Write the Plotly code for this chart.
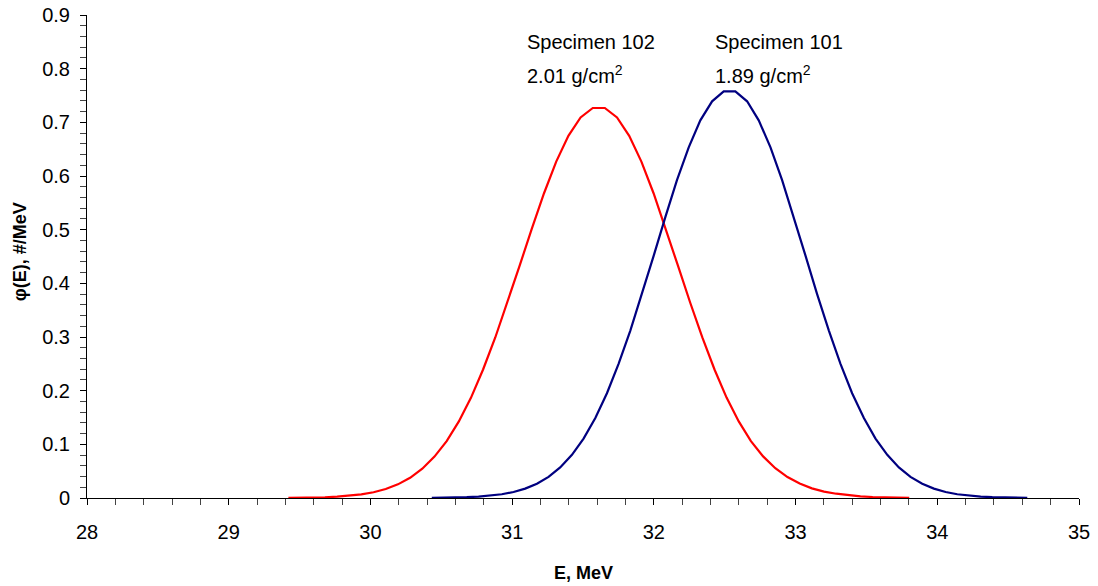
import plotly.graph_objects as go

# Specimen 102 (red)
x102 = [29.421, 29.507, 29.593, 29.679, 29.765, 29.851, 29.936, 30.022, 30.108, 30.194,
        30.280, 30.366, 30.452, 30.538, 30.624, 30.710, 30.795, 30.881, 30.967, 31.053,
        31.139, 31.225, 31.311, 31.397, 31.483, 31.569, 31.654, 31.740, 31.826, 31.912,
        31.998, 32.084, 32.170, 32.256, 32.342, 32.428, 32.513, 32.599, 32.685, 32.771,
        32.857, 32.943, 33.029, 33.115, 33.201, 33.287, 33.372, 33.458, 33.544, 33.630,
        33.716, 33.802]
y102 = [0.0002, 0.0004, 0.0008, 0.0014, 0.0024, 0.0041, 0.0067, 0.0107, 0.0167, 0.0254,
        0.0377, 0.0546, 0.0771, 0.1061, 0.1427, 0.1871, 0.2395, 0.2991, 0.3643, 0.4329,
        0.5020, 0.5679, 0.6268, 0.6749, 0.7090, 0.7267, 0.7267, 0.7090, 0.6749, 0.6268,
        0.5679, 0.5020, 0.4329, 0.3643, 0.2991, 0.2395, 0.1871, 0.1427, 0.1061, 0.0775,
        0.0555, 0.0390, 0.0270, 0.0180, 0.0120, 0.0080, 0.0050, 0.0030, 0.0018, 0.0010,
        0.0005, 0.0003]

# Specimen 101 (blue)
x101 = [30.433, 30.515, 30.598, 30.680, 30.763, 30.845, 30.927, 31.010, 31.092, 31.175,
        31.257, 31.339, 31.422, 31.504, 31.587, 31.669, 31.751, 31.834, 31.916, 31.999,
        32.081, 32.163, 32.246, 32.328, 32.411, 32.493, 32.575, 32.658, 32.740, 32.823,
        32.905, 32.987, 33.070, 33.152, 33.235, 33.317, 33.399, 33.482, 33.564, 33.647,
        33.729, 33.811, 33.894, 33.976, 34.059, 34.141, 34.223, 34.306, 34.388, 34.471,
        34.553, 34.635]
y101 = [0.0003, 0.0005, 0.0008, 0.0015, 0.0026, 0.0043, 0.0070, 0.0112, 0.0175, 0.0265,
        0.0394, 0.0570, 0.0804, 0.1108, 0.1490, 0.1953, 0.2500, 0.3120, 0.3800, 0.4516,
        0.5235, 0.5922, 0.6535, 0.7037, 0.7392, 0.7577, 0.7577, 0.7392, 0.7037, 0.6535,
        0.5922, 0.5235, 0.4516, 0.3800, 0.3120, 0.2500, 0.1953, 0.1490, 0.1108, 0.0804,
        0.0570, 0.0394, 0.0265, 0.0175, 0.0112, 0.0070, 0.0043, 0.0026, 0.0015, 0.0008,
        0.0005, 0.0003]

labels = [
    (31.09, 0.850, "Specimen 102"),
    (31.09, 0.790, "2.01 g/cm<sup>2</sup>"),
    (32.418, 0.850, "Specimen 101"),
    (32.418, 0.790, "1.89 g/cm<sup>2</sup>"),
]

FONT = "Liberation Sans, Arial, Helvetica, sans-serif"

fig = go.Figure()
fig.add_trace(go.Scatter(x=x102, y=y102, mode="lines",
                         line=dict(color="#ff0000", width=2.2), showlegend=False))
fig.add_trace(go.Scatter(x=x101, y=y101, mode="lines",
                         line=dict(color="#000080", width=2.2), showlegend=False))

for x, y, t in labels:
    fig.add_annotation(x=x, y=y, xref="x", yref="y", text=t, showarrow=False,
                       xanchor="left", yanchor="middle",
                       font=dict(family=FONT, size=20, color="black"))

# axis titles placed in pixel-matched paper positions
fig.add_annotation(x=0.5, y=-0.155, xref="paper", yref="paper", showarrow=False,
                   text="<b>E, MeV</b>", xanchor="center", yanchor="middle",
                   font=dict(family=FONT, size=18, color="black"))
fig.add_annotation(x=-0.068, y=0.51, xref="paper", yref="paper", showarrow=False,
                   text="<b>φ(E), #/MeV</b>", textangle=-90, xanchor="center", yanchor="middle",
                   font=dict(family=FONT, size=18, color="black"))

fig.update_layout(
    width=1098, height=586,
    margin=dict(l=87, r=19, t=15, b=88),
    paper_bgcolor="white", plot_bgcolor="white",
    font=dict(family=FONT, color="black"),
    xaxis=dict(range=[28, 35], dtick=1, tick0=28, showgrid=False, zeroline=False,
               showline=True, linecolor="black", linewidth=1, automargin=False,
               ticks="outside", ticklen=6, tickcolor="black",
               tickfont=dict(size=20, family=FONT), ticklabelstandoff=10,
               minor=dict(dtick=0.2, ticks="outside", ticklen=6, tickcolor="#444")),
    yaxis=dict(range=[0, 0.9], dtick=0.1, tick0=0, showgrid=False, zeroline=False,
               showline=True, linecolor="black", linewidth=1, automargin=False,
               ticks="outside", ticklen=6, tickcolor="black",
               tickfont=dict(size=20, family=FONT), ticklabelstandoff=6,
               minor=dict(dtick=0.02, ticks="outside", ticklen=6, tickcolor="#444")),
)

fig.write_html("out.html")
